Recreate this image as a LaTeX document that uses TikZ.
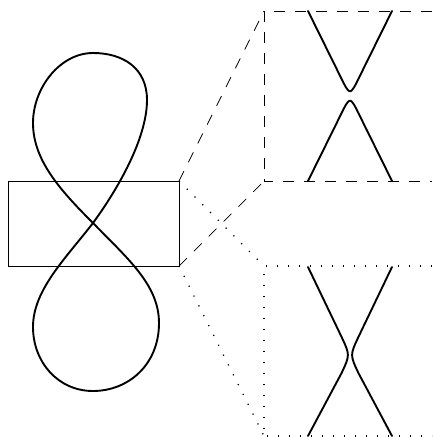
\documentclass[tikz,border=0pt]{standalone}
\usepackage{tikz}
\usetikzlibrary{calc}

\tikzset{
  curve/.style={line width=1.9pt, line join=round, line cap=round},
  zoomdash/.style={line width=0.7pt, dash pattern=on 11pt off 10pt},
  zoomdot/.style={line width=1.2pt, dash pattern=on 1.2pt off 9.8pt},
}

\begin{document}
\begin{tikzpicture}[x=1pt,y=-1pt]
  \useasboundingbox (0,0) rectangle (432,440);
  % figure eight
  \coordinate (cross) at (93,223);
  \draw[curve] (cross) .. controls (122.5,182.5) and (147,135) .. (147,100)
    .. controls (147,68) and (123,53) .. (93,53)
    .. controls (60,53) and (33,88) .. (33,123)
    .. controls (33,160) and (60,190) .. (cross)
    .. controls (128,259) and (159,285) .. (159,323)
    .. controls (159,365) and (128,391) .. (93,391)
    .. controls (58,391) and (33,362) .. (33,327)
    .. controls (33,290) and (65.5,258.6) .. (cross) -- cycle;
  % zoom window
  \coordinate (winNW) at (8,181);
  \coordinate (winNE) at (179,181);
  \coordinate (winSE) at (179,266);
  \coordinate (winSW) at (8,266);
  \draw[line width=0.7pt] (winNW) -- (winNE) -- (winSE) -- (winSW) -- cycle;
  % dashed panel
  \coordinate (dashTL) at (264,11);
  \coordinate (dashTR) at (432,11);
  \coordinate (dashBL) at (264,181);
  \coordinate (dashBR) at (432,181);
  \draw[zoomdash] (winNE) -- (dashTL);
  \draw[zoomdash] (winSE) -- (dashBL);
  \draw[zoomdash] (dashTR) -- (dashTL) -- (dashBL) -- (dashBR);
  % dotted panel
  \coordinate (dotTL) at (264,266);
  \coordinate (dotTR) at (432,266);
  \coordinate (dotBL) at (264,436);
  \coordinate (dotBR) at (432,436);
  \draw[zoomdot] (winNE) -- (dotTL);
  \draw[zoomdot] (winSE) -- (dotBL);
  \draw[zoomdot] (dotTR) -- (dotTL) -- (dotBL) -- (dotBR);
  % separated branches
  \draw[curve] (308,11) -- (340.8,77.3) .. controls (350,96) .. (359.2,77.3) -- (392,11);
  \draw[curve] (308,181) -- (340.8,114.7) .. controls (350,96) .. (359.2,114.7) -- (392,181);
  % crossing branches
  \draw[curve] (308,267) -- (341.6,337) .. controls (350,355) .. (341.6,373) -- (308,436);
  \draw[curve] (392,267) -- (358.4,337) .. controls (350,355) .. (358.4,373) -- (392,436);
\end{tikzpicture}
\end{document}
